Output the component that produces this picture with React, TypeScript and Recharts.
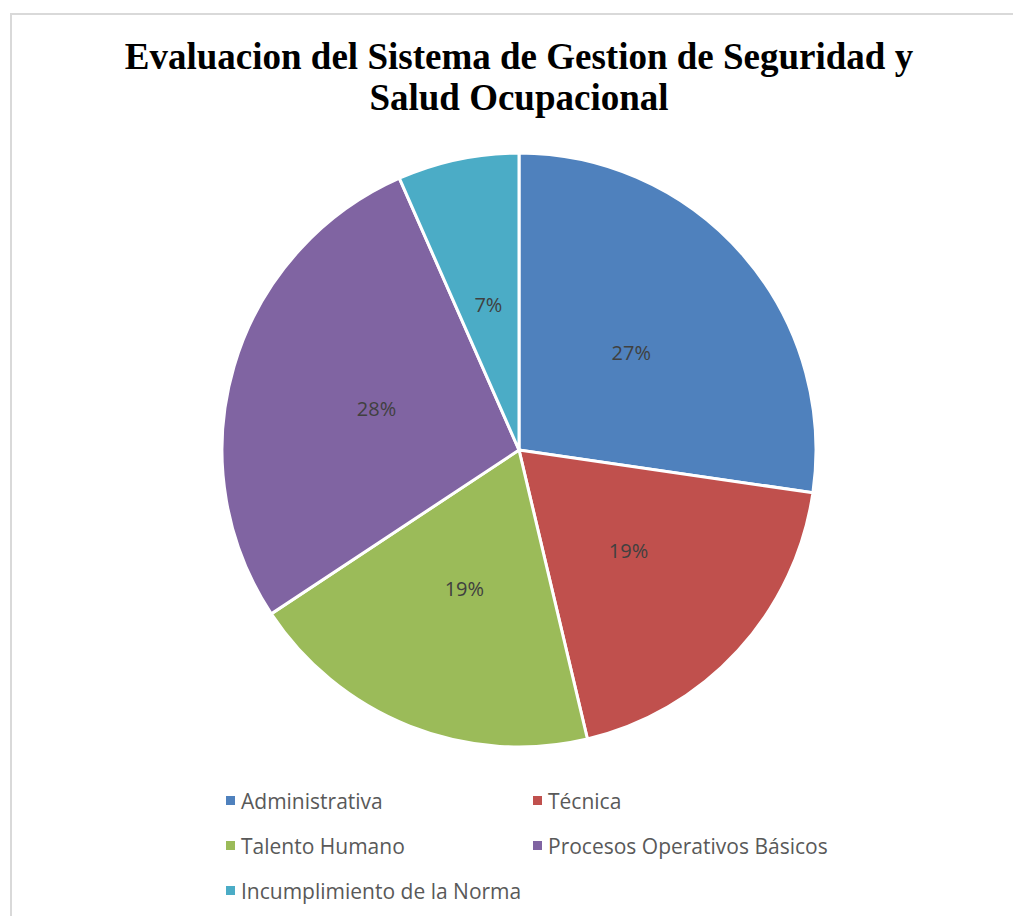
import { PieChart, Pie, Cell, Legend } from "recharts";

const categories = [
    "Administrativa",
    "Técnica",
    "Talento Humano",
    "Procesos Operativos Básicos",
    "Incumplimiento de la Norma",
];
const values = [27.3, 19.0, 19.4, 27.7, 6.6];
const colors = ["#4F81BD", "#C0504D", "#9BBB59", "#8064A2", "#4BACC6"];

const data = categories.map((name, i) => ({ name, value: values[i] }));

const RADIAN = Math.PI / 180;

function renderLabel(props: any) {
    const { cx, cy, midAngle, outerRadius, percent } = props;
    const r = outerRadius * 0.5;
    const x = cx + r * Math.cos(-midAngle * RADIAN);
    const y = cy + r * Math.sin(-midAngle * RADIAN);
    return (
        <text
            x={x}
            y={y}
            fill="#404040"
            fontSize={20}
            fontFamily="'Open Sans', sans-serif"
            textAnchor="middle"
            dominantBaseline="central"
        >
            {`${Math.round(percent * 100)}%`}
        </text>
    );
}

function LegendGrid() {
    return (
        <div
            style={{
                display: "grid",
                gridTemplateColumns: "307px 320px",
                fontFamily: "'Open Sans', sans-serif",
                fontSize: 21,
                color: "#595959",
                marginLeft: 226,
            }}
        >
            {categories.map((name, i) => (
                <div
                    key={name}
                    style={{ display: "flex", alignItems: "center", height: 45, whiteSpace: "nowrap" }}
                >
                    <span
                        style={{
                            width: 9,
                            height: 9,
                            background: colors[i],
                            marginRight: 6,
                            display: "inline-block",
                        }}
                    />
                    {name}
                </div>
            ))}
        </div>
    );
}

export default function App() {
    return (
        <div style={{ position: "absolute", left: 0, top: 0, width: 1013, height: 916, overflow: "hidden" }}>
            <div
                style={{
                    position: "absolute",
                    left: 10,
                    top: 13,
                    width: 1020,
                    height: 920,
                    border: "2px solid #d9d9d9",
                    boxSizing: "border-box",
                }}
            />
            <div
                style={{
                    position: "absolute",
                    left: 0,
                    top: 36,
                    width: 1038,
                    textAlign: "center",
                    fontFamily: "'Liberation Serif', 'Times New Roman', serif",
                    fontWeight: "bold",
                    fontSize: 37,
                    lineHeight: "41px",
                    color: "#000",
                }}
            >
                Evaluacion del Sistema de Gestion de Seguridad y
                <br />
                Salud Ocupacional
            </div>
            <div style={{ position: "absolute", left: 0, top: 0 }}>
                <PieChart width={1013} height={916} margin={{ top: 0, right: 0, bottom: 0, left: 0 }}>
                    <Pie
                        data={data}
                        dataKey="value"
                        nameKey="name"
                        cx={519}
                        cy={450}
                        outerRadius={297}
                        startAngle={90}
                        endAngle={-270}
                        stroke="#ffffff"
                        strokeWidth={3}
                        label={renderLabel}
                        labelLine={false}
                        isAnimationActive={false}
                    >
                        {data.map((d, i) => (
                            <Cell key={d.name} fill={colors[i]} />
                        ))}
                    </Pie>
                    <Legend
                        layout="horizontal"
                        verticalAlign="bottom"
                        align="left"
                        wrapperStyle={{ top: 778, left: 0, bottom: "auto", width: 1013 }}
                        content={() => <LegendGrid />}
                    />
                </PieChart>
            </div>
        </div>
    );
}
